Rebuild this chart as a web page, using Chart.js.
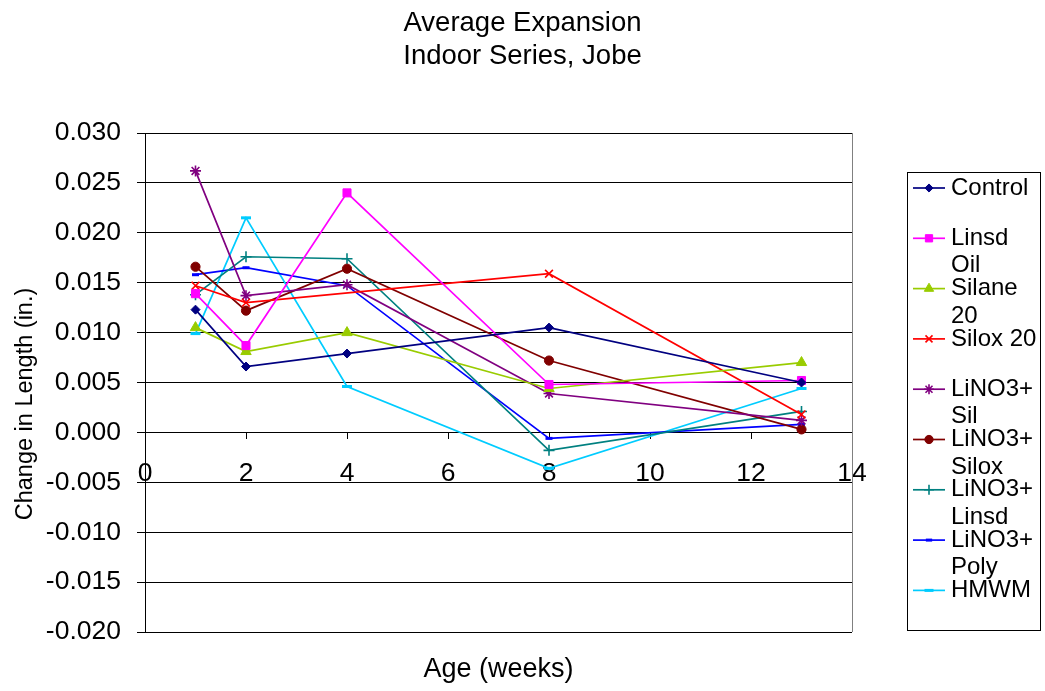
<!DOCTYPE html>
<html>
<head>
<meta charset="utf-8">
<script src="https://cdn.jsdelivr.net/npm/chart.js@4.4.1/dist/chart.umd.min.js"></script>
<style>
  body { margin: 0; background: #fff; }
  canvas { display: block; }
</style>
</head>
<body>
<canvas id="expansionChart" width="1045" height="691"></canvas>
<script>
// Age in weeks where readings were taken
const weeks = [1, 2, 4, 8, 13];

const seriesNames = ['Control', 'Linsd Oil', 'Silane 20', 'Silox 20', 'LiNO3+Sil',
                     'LiNO3+Silox', 'LiNO3+Linsd', 'LiNO3+Poly', 'HMWM'];

// Change in length (in.) per series, null = no reading
const control     = [0.0123, 0.0066, 0.0079, 0.0105, 0.0050];
const linsdOil    = [0.0139, 0.0087, 0.0240, 0.0048, 0.0052];
const silane20    = [0.0105, 0.0081, 0.0100, 0.0044, 0.0070];
const silox20     = [0.0147, 0.0130, null,   0.0159, 0.0018];
const linoSil     = [0.0262, 0.0137, 0.0148, 0.0039, 0.0012];
const linoSilox   = [0.0166, 0.0122, 0.0164, 0.0072, 0.0003];
const linoLinsd   = [0.0138, 0.0176, 0.0174, -0.0018, 0.0021];
const linoPoly    = [0.0158, 0.0165, 0.0147, -0.0006, 0.0008];
const hmwm        = [0.0099, 0.0215, 0.0046, -0.0036, 0.0044];

const allSeries = [control, linsdOil, silane20, silox20, linoSil, linoSilox, linoLinsd, linoPoly, hmwm];

// axis ranges
const xMin = 0, xMax = 14, xStep = 2;
const yMin = -0.020, yMax = 0.030, yStep = 0.005;

// styles
const colors = ['#000080', '#FF00FF', '#99CC00', '#FF0000', '#800080', '#800000', '#008080', '#0000FF', '#00CCFF'];
const pointStyles = ['rectRot', 'rect', 'triangle', 'crossRot', 'star', 'circle', 'cross', 'line', 'line'];
const pointSizes = [4.5, 5.7, 6, 5.5, 5.5, 4.6, 5.5, 3.5, 5];
const pointBorders = [1, 1, 1, 1.6, 1.6, 1, 1.6, 3, 3];

const FONT = "'Liberation Sans', Arial, sans-serif";
Chart.defaults.font.family = FONT;
Chart.defaults.color = '#000';

const datasets = allSeries.map((vals, i) => ({
    label: seriesNames[i],
    data: weeks.map((w, j) => ({ x: w, y: vals[j] })).filter(p => p.y !== null),
    borderColor: colors[i],
    backgroundColor: colors[i],
    borderWidth: 1.7,
    showLine: true,
    pointStyle: pointStyles[i],
    pointRadius: pointSizes[i],
    pointBorderWidth: pointBorders[i],
    pointBackgroundColor: colors[i],
    pointBorderColor: colors[i]
}));

// split legend names the way Excel wraps them in the narrow box
function wrapName(ctx, name, maxWidth) {
    const tokens = name.match(/\S+?\+|\S+/g);
    const lines = [];
    let line = '';
    tokens.forEach(t => {
        const join = line === '' ? t : (line.endsWith('+') ? line + t : line + ' ' + t);
        if (line !== '' && ctx.measureText(join).width > maxWidth) {
            lines.push(line);
            line = t;
        } else {
            line = join;
        }
    });
    lines.push(line);
    return lines;
}

const decorPlugin = {
    id: 'decor',
    beforeDatasetsDraw(chart) {
        const { ctx, chartArea } = chart;
        ctx.save();
        ctx.strokeStyle = '#808080';
        ctx.lineWidth = 1;
        ctx.beginPath();
        ctx.moveTo(Math.round(chartArea.right) + 0.5, chartArea.top);
        ctx.lineTo(Math.round(chartArea.right) + 0.5, chartArea.bottom);
        ctx.stroke();
        ctx.restore();
    },
    afterDraw(chart) {
        const { ctx, chartArea } = chart;
        ctx.save();
        ctx.fillStyle = '#000';
        ctx.textAlign = 'center';
        ctx.textBaseline = 'alphabetic';

        // chart title
        ctx.font = '27.5px ' + FONT;
        ctx.fillText('Average Expansion', chart.width / 2, 31);
        ctx.fillText('Indoor Series, Jobe', chart.width / 2, 64);

        // axis titles
        ctx.font = '27px ' + FONT;
        ctx.fillText('Age (weeks)', (chartArea.left + chartArea.right) / 2, 677);
        ctx.save();
        ctx.translate(32, 404);
        ctx.rotate(-Math.PI / 2);
        ctx.font = '23.5px ' + FONT;
        ctx.fillText('Change in Length (in.)', 0, 0);
        ctx.restore();

        // legend
        const box = { left: 907, top: 172, right: 1040, bottom: 630 };
        ctx.strokeStyle = '#000';
        ctx.lineWidth = 1;
        ctx.strokeRect(box.left + 0.5, box.top + 0.5, box.right - box.left, box.bottom - box.top);
        ctx.font = '24px ' + FONT;
        ctx.textAlign = 'left';
        ctx.textBaseline = 'middle';
        chart.data.datasets.forEach((ds, i) => {
            const y = 188 + i * 50.3;
            ctx.strokeStyle = ds.borderColor;
            ctx.fillStyle = ds.borderColor;
            ctx.lineWidth = 1.7;
            ctx.beginPath();
            ctx.moveTo(913, y);
            ctx.lineTo(945, y);
            ctx.stroke();
            ctx.lineWidth = ds.pointBorderWidth;
            Chart.helpers.drawPoint(ctx, {
                pointStyle: ds.pointStyle,
                radius: ds.pointRadius * 0.9,
                rotation: 0,
                borderWidth: ds.pointBorderWidth
            }, 929, y);
            ctx.fillStyle = '#000';
            wrapName(ctx, ds.label, 88).forEach((ln, k) => {
                ctx.fillText(ln, 951, y + k * 27.5);
            });
        });
        ctx.restore();
    }
};

new Chart(document.getElementById('expansionChart'), {
    type: 'scatter',
    data: { datasets },
    options: {
        responsive: false,
        animation: false,
        layout: { padding: { left: 0, right: 193, top: 133, bottom: 59 } },
        plugins: {
            legend: { display: false },
            title: { display: false },
            tooltip: { enabled: false }
        },
        scales: {
            x: {
                type: 'linear',
                position: { y: 0 },
                min: xMin,
                max: xMax,
                ticks: { stepSize: xStep, font: { size: 26.5 }, padding: 19, maxRotation: 0, color: '#000' },
                grid: { drawOnChartArea: false, tickLength: 6, color: '#000' },
                border: { color: '#000', width: 1 }
            },
            y: {
                min: yMin,
                max: yMax,
                ticks: {
                    stepSize: yStep,
                    font: { size: 26.5 },
                    padding: 16,
                    color: '#000',
                    callback: v => (Math.abs(v) < 1e-9 ? 0 : v).toFixed(3)
                },
                grid: { color: '#000', tickLength: 8 },
                border: { color: '#000', width: 1 },
                afterFit(scale) { scale.width = 145; }
            }
        }
    },
    plugins: [decorPlugin]
});
</script>
</body>
</html>
